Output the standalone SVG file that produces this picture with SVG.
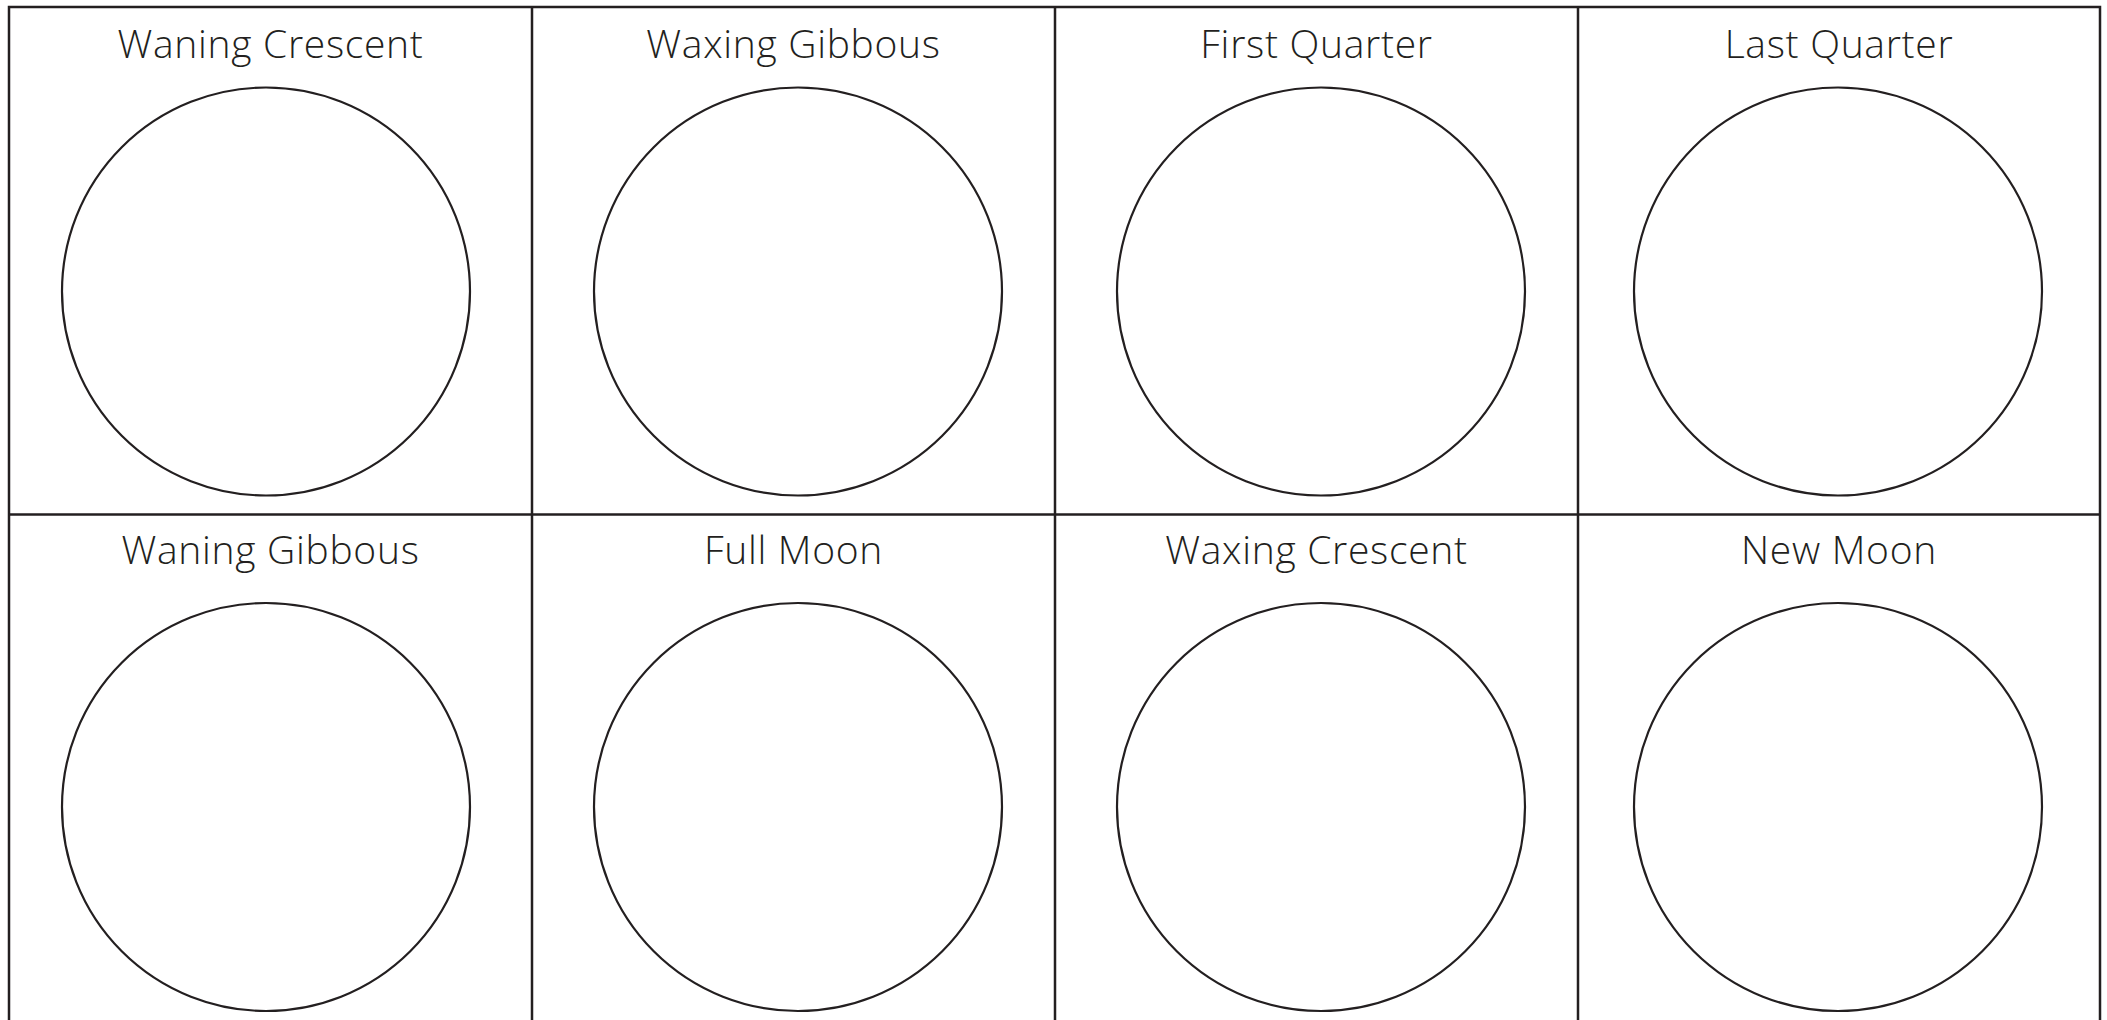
<svg xmlns="http://www.w3.org/2000/svg" width="2107" height="1020" viewBox="0 0 2107 1020">
<style>
.grid{stroke:#231f20;stroke-width:2.5;fill:none}
.moon{stroke:#231f20;stroke-width:2.2;fill:#fff}
.lbl{font-family:"Open Sans","Noto Sans","Liberation Sans",sans-serif;font-size:39px;font-weight:350;fill:#231f20;text-anchor:middle;letter-spacing:0.7px}
</style>
<rect width="2107" height="1020" fill="#fff"/>
<g id="grid" class="grid">
<path d="M9 1022V7H2100V1022"/>
<path d="M532 7V1022M1055 7V1022M1578 7V1022"/>
<path d="M9 514.5H2100"/>
</g>
<g id="waning-crescent"><text class="lbl" x="270.5" y="58">Waning Crescent</text><circle class="moon" cx="266" cy="291.5" r="204"/></g>
<g id="waxing-gibbous"><text class="lbl" x="793.5" y="58">Waxing Gibbous</text><circle class="moon" cx="798" cy="291.5" r="204"/></g>
<g id="first-quarter"><text class="lbl" x="1316.5" y="58">First Quarter</text><circle class="moon" cx="1321" cy="291.5" r="204"/></g>
<g id="last-quarter"><text class="lbl" x="1839" y="58">Last Quarter</text><circle class="moon" cx="1838" cy="291.5" r="204"/></g>
<g id="waning-gibbous"><text class="lbl" x="270.5" y="564">Waning Gibbous</text><circle class="moon" cx="266" cy="807" r="204"/></g>
<g id="full-moon"><text class="lbl" x="793.5" y="564">Full Moon</text><circle class="moon" cx="798" cy="807" r="204"/></g>
<g id="waxing-crescent"><text class="lbl" x="1316.5" y="564">Waxing Crescent</text><circle class="moon" cx="1321" cy="807" r="204"/></g>
<g id="new-moon"><text class="lbl" x="1839" y="564">New Moon</text><circle class="moon" cx="1838" cy="807" r="204"/></g>
<g id="connectors"></g>
</svg>
